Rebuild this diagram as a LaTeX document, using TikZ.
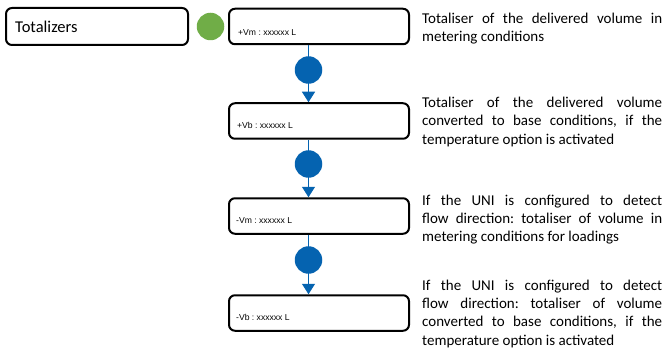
\documentclass[tikz,border=0pt]{standalone}
\usepackage{fontspec}
\setmainfont{Carlito}
\newfontfamily\boxfont{Liberation Sans}
\usetikzlibrary{arrows.meta}
\definecolor{bluec}{RGB}{5,99,176}
\definecolor{greenc}{RGB}{112,173,71}
\frenchspacing
\tikzset{
  menubox/.style={draw=black, line width=2pt, rounded corners=6pt, minimum width=180pt, minimum height=35.5pt, inner sep=0pt},
  bluedot/.style={circle, fill=bluec, minimum size=27.5pt, inner sep=0pt},
  greendot/.style={circle, fill=greenc, minimum size=27.5pt, inner sep=0pt},
  conn/.style={draw=bluec, line width=1.3pt, -{Triangle[width=13pt,length=10.5pt]}},
  smalltxt/.style={font=\boxfont\fontsize{8.6}{9}\selectfont, anchor=base west, inner sep=0pt},
  desc/.style={font=\fontsize{15}{18.4}\selectfont, text width=240pt, align=justify, anchor=base west, inner sep=0pt},
}
\begin{document}
\begin{tikzpicture}[x=1pt,y=-1pt]
\useasboundingbox (0,0) rectangle (665,353);
% boxes
\node[menubox, minimum width=182pt, minimum height=37pt] (tot) at (97,26.5) {};
\node[font=\fontsize{16.5}{18}\selectfont, anchor=base west, inner sep=0pt] (tottxt) at (15,33) {Totalizers};
\node[greendot] (g) at (210.5,26.5) {};
\node[menubox] (b1) at (319,26.5) {};
\node[menubox] (b2) at (319,121) {};
\node[menubox] (b3) at (319,216) {};
\node[menubox] (b4) at (319,313) {};
\node[smalltxt] (t1) at (238,36) {+Vm : xxxxxx L};
\node[smalltxt] (t2) at (237,128.5) {+Vb : xxxxxx L};
\node[smalltxt] (t3) at (236,223.5) {-Vm : xxxxxx L};
\node[smalltxt] (t4) at (236,320.5) {-Vb : xxxxxx L};
% connectors
\coordinate (p1) at (308.5,70);
\coordinate (p2) at (308.5,164);
\coordinate (p3) at (308.5,260);
\draw[conn] (p1 |- b1.south) -- (p1 |- b2.north);
\draw[conn] (p2 |- b2.south) -- (p2 |- b3.north);
\draw[conn] (p3 |- b3.south) -- (p3 |- b4.north);
\node[bluedot] (c1) at (p1) {};
\node[bluedot] (c2) at (p2) {};
\node[bluedot] (c3) at (p3) {};
% descriptions
\node[desc] (d1) at (422,23.3) {Totaliser of the delivered volume in\linebreak metering conditions};
\node[desc] (d2) at (422,107.3) {Totaliser of the delivered volume\linebreak converted to base conditions, if the\linebreak temperature option is activated};
\node[desc] (d3) at (422,205) {If the UNI is configured to detect\linebreak flow direction: totaliser of volume in\linebreak metering conditions for loadings};
\node[desc] (d4) at (422,290) {If the UNI is configured to detect\linebreak flow direction: totaliser of volume\linebreak converted to base conditions, if the\linebreak temperature option is activated};
\end{tikzpicture}
\end{document}
